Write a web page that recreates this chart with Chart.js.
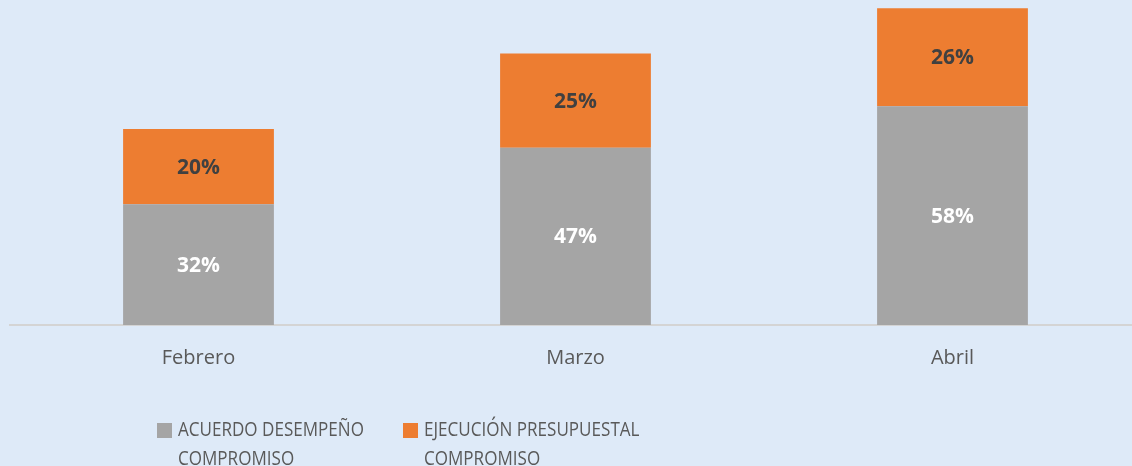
<!DOCTYPE html>
<html>
<head>
<meta charset="utf-8">
<script src="https://cdn.jsdelivr.net/npm/chart.js@4/dist/chart.umd.min.js"></script>
<style>
  html, body { margin:0; padding:0; background:#DEEAF8; overflow:hidden; }
  #wrap { position:relative; width:1141px; height:466px; }
  #legend { position:absolute; left:0; top:0; width:1132px; height:466px; pointer-events:none;
            font-family:"Open Sans", sans-serif; color:#595959; }
  .item { position:absolute; top:414px; }
  .sw { position:absolute; left:0; top:9px; width:15px; height:15px; }
  .tx { position:absolute; left:21px; top:0; font-size:20px; line-height:29px; transform:scaleX(0.853); transform-origin:0 0; white-space:normal; }
</style>
</head>
<body>
<div id="wrap">
  <canvas id="c" width="1141" height="466"></canvas>
  <div id="legend"></div>
</div>
<script>
const categories = ["Febrero", "Marzo", "Abril"];
const acuerdo = [32, 47, 58];
const ejecucion = [20, 25, 26];
const seriesNames = ["ACUERDO DESEMPEÑO COMPROMISO", "EJECUCIÓN PRESUPUESTAL COMPROMISO"];
const seriesColors = ["#A5A5A5", "#ED7D31"];
const labelColors = ["#FFFFFF", "#404040"];

const labelPlugin = {
  id: 'barLabels',
  afterDatasetsDraw(chart) {
    const ctx = chart.ctx;
    ctx.save();
    ctx.font = "bold 21px 'Open Sans', sans-serif";
    ctx.textAlign = 'center';
    ctx.textBaseline = 'middle';
    chart.data.datasets.forEach((ds, di) => {
      const meta = chart.getDatasetMeta(di);
      meta.data.forEach((bar, i) => {
        const p = bar.getProps(['x', 'y', 'base'], true);
        ctx.fillStyle = labelColors[di];
        ctx.fillText(ds.data[i] + '%', p.x, (p.y + p.base) / 2 + 1);
      });
    });
    ctx.restore();
  }
};

const chart = new Chart(document.getElementById('c'), {
  type: 'bar',
  data: {
    labels: categories,
    datasets: [
      { label: seriesNames[0], data: acuerdo, backgroundColor: seriesColors[0] },
      { label: seriesNames[1], data: ejecucion, backgroundColor: seriesColors[1] }
    ]
  },
  options: {
    responsive: false,
    animation: false,
    layout: { padding: { left: 10, right: 0, top: 0, bottom: 0 } },
    plugins: { legend: { display: false }, tooltip: { enabled: false } },
    datasets: { bar: { categoryPercentage: 1.0, barPercentage: 0.4 } },
    scales: {
      x: {
        stacked: true,
        grid: { display: true, drawOnChartArea: false, drawTicks: false },
        border: { display: true, color: '#D4D4D4', width: 2 },
        ticks: { color: '#595959', font: { family: "'Open Sans', sans-serif", size: 20 }, padding: 21 },
        afterFit(scale) { scale.height = 141; }
      },
      y: {
        stacked: true,
        display: false,
        min: 0,
        max: 86.2
      }
    }
  },
  plugins: [labelPlugin]
});

// HTML legend built from the chart's datasets
const legend = document.getElementById('legend');
const legendPos = [{ left: 157, width: 250 }, { left: 403, width: 290 }];
chart.data.datasets.forEach((ds, i) => {
  const it = document.createElement('div');
  it.className = 'item';
  it.style.left = legendPos[i].left + 'px';
  const sw = document.createElement('div');
  sw.className = 'sw';
  sw.style.background = ds.backgroundColor;
  const tx = document.createElement('div');
  tx.className = 'tx';
  tx.style.width = legendPos[i].width + 'px';
  tx.textContent = ds.label;
  it.appendChild(sw);
  it.appendChild(tx);
  legend.appendChild(it);
});
</script>
</body>
</html>
